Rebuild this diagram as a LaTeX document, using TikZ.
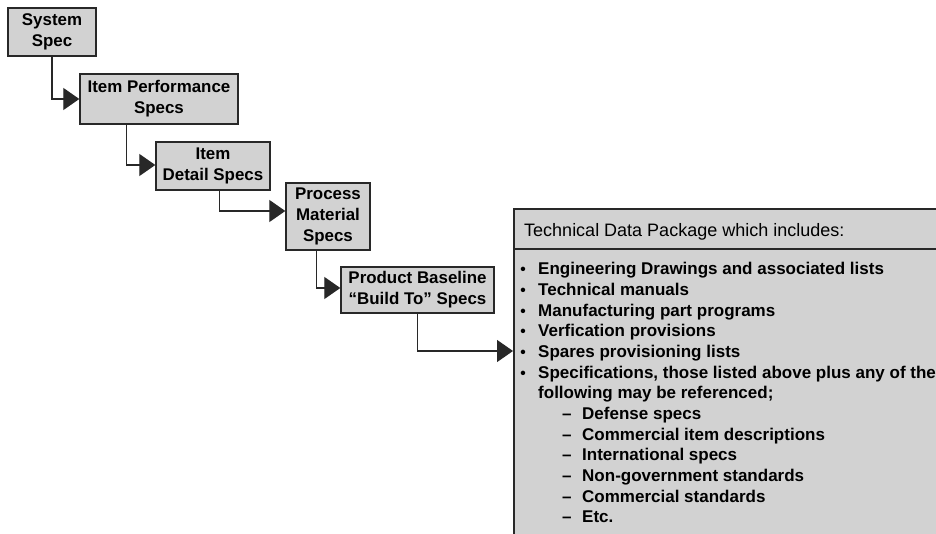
\documentclass[tikz,border=0pt]{standalone}
\usepackage{fontspec}
\setmainfont{Liberation Sans}
\usetikzlibrary{arrows.meta}
\definecolor{boxfill}{RGB}{210,210,210}
\definecolor{edge}{RGB}{40,40,40}
\begin{document}
\begin{tikzpicture}[x=1pt,y=-1pt,
  specbox/.style={draw=edge, line width=1.4pt, fill=boxfill, inner sep=0pt, align=center,
    font=\fontsize{16.9}{21}\selectfont\bfseries},
  conn/.style={draw=edge, line width=1.3pt, -{Triangle[length=16pt,width=22pt]}},
  item/.style={anchor=base west, inner sep=0pt, font=\fontsize{17}{20}\selectfont\bfseries},
  head/.style={anchor=base west, inner sep=0pt, font=\fontsize{18}{20}\selectfont},
  bul/.style={anchor=base, inner sep=0pt, font=\fontsize{15.5}{15.5}\selectfont\bfseries}
]
\useasboundingbox (0,0) rectangle (936,534);
\clip (0,0) rectangle (936,534);
\fill[white] (0,0) rectangle (936,534);
% small boxes
\node[specbox, minimum width=88pt, minimum height=48pt] (sys) at (52,32) {System\\Spec};
\node[specbox, minimum width=158pt, minimum height=50pt] (perf) at (159,99) {Item Performance\\Specs};
\node[specbox, minimum width=114pt, minimum height=48pt] (detail) at (213,166) {Item\\Detail Specs};
\node[specbox, minimum width=84pt, minimum height=67pt] (proc) at (328,216.5) {Process\\Material\\Specs};
\node[specbox, minimum width=153pt, minimum height=46pt] (prod) at (417.5,290) {Product Baseline\\``Build To'' Specs};
% big box
\node[draw=edge, line width=1.6pt, fill=boxfill, minimum width=460pt, minimum height=360pt, anchor=north west, inner sep=0pt] (tdp) at (513,208) {};
\coordinate (sepL) at (513,249);
\coordinate (sepR) at (990,249);
\draw[draw=edge, line width=1.6pt] (sepL) -- (sepR);
% connectors
\draw[conn] (sys.south) |- (perf.west);
\draw[conn] ([xshift=47pt]perf.south west) |- ([yshift=1pt]detail.west);
\draw[conn] ([xshift=64pt]detail.south west) |- ([yshift=5.5pt]proc.west);
\draw[conn] ([xshift=31pt]proc.south west) |- ([yshift=2pt]prod.west);
\draw[conn] (prod.south) |- (tdp.west |- 0,351);
% text in big box
\node[head] (h) at (524,236.5) {Technical Data Package which includes:};
\foreach \t [count=\i] in {Engineering Drawings and associated lists, Technical manuals, Manufacturing part programs, Verfication provisions, Spares provisioning lists, {Specifications, those listed above plus any of the}}{
  \node[bul] (b\i) at (523,{275+(\i-1)*20.65}) {\textbullet};
  \node[item] (t\i) at (538,{275+(\i-1)*20.65}) {\t};
}
\node[item] (t7) at (538,{275+6*20.65}) {following may be referenced;};
\foreach \t [count=\i] in {Defense specs, Commercial item descriptions, International specs, Non-government standards, Commercial standards, Etc.}{
  \node[item] (d\i) at (562,{275+(\i+6)*20.65}) {--};
  \node[item] (s\i) at (582,{275+(\i+6)*20.65}) {\t};
}
\end{tikzpicture}
\end{document}
